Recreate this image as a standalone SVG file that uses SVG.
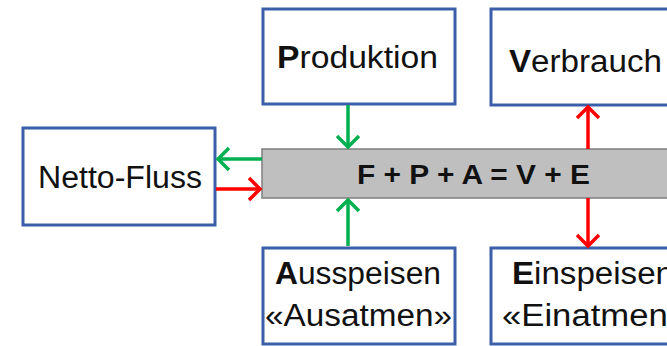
<svg xmlns="http://www.w3.org/2000/svg" width="667" height="346" viewBox="0 0 667 346">
<style>
.box{fill:#fff;stroke:#3a5fa8;stroke-width:3}
.bar{fill:#bfbfbf;stroke:#7f7f7f;stroke-width:1.5}
.t{font-family:"Liberation Sans",Arial,sans-serif;font-size:31px;fill:#111}
.b{font-weight:bold}
.eq{font-family:"Liberation Sans",Arial,sans-serif;font-size:27px;font-weight:bold;fill:#111}
.g{stroke:#00b050;stroke-width:3.5;fill:none}
.r{stroke:#ff0000;stroke-width:3.5;fill:none}
</style>
<defs>
<marker id="ag" markerUnits="userSpaceOnUse" markerWidth="26" markerHeight="26" refX="14" refY="13" orient="auto" viewBox="0 0 26 26">
<path d="M3,2 L14,13 L3,24" fill="none" stroke="#00b050" stroke-width="3.5"/>
</marker>
<marker id="ar" markerUnits="userSpaceOnUse" markerWidth="26" markerHeight="26" refX="14" refY="13" orient="auto" viewBox="0 0 26 26">
<path d="M3,2 L14,13 L3,24" fill="none" stroke="#ff0000" stroke-width="3.5"/>
</marker>
</defs>
<g id="center">
<rect class="bar" x="262" y="149" width="440" height="49"/>
<text class="eq" x="357" y="184" textLength="233" lengthAdjust="spacingAndGlyphs">F + P + A = V + E</text>
</g>
<g id="produktion">
<rect class="box" x="263" y="9" width="192" height="95"/>
<text class="t" x="277" y="68" textLength="161" lengthAdjust="spacingAndGlyphs"><tspan class="b">P</tspan>roduktion</text>
</g>
<g id="verbrauch">
<rect class="box" x="491" y="9" width="200" height="96"/>
<text class="t" x="509" y="72" textLength="153" lengthAdjust="spacingAndGlyphs"><tspan class="b">V</tspan>erbrauch</text>
</g>
<g id="netto">
<rect class="box" x="23" y="128" width="192" height="97"/>
<text class="t" x="38" y="188" textLength="164" lengthAdjust="spacingAndGlyphs">Netto-Fluss</text>
</g>
<g id="ausspeisen">
<rect class="box" x="263" y="248" width="192" height="96"/>
<text class="t" x="275" y="284" textLength="166" lengthAdjust="spacingAndGlyphs"><tspan class="b">A</tspan>usspeisen</text>
<text class="t" x="265" y="326" textLength="187" lengthAdjust="spacingAndGlyphs">«Ausatmen»</text>
</g>
<g id="einspeisen">
<rect class="box" x="491" y="248" width="200" height="96"/>
<text class="t" x="512" y="284" textLength="162" lengthAdjust="spacingAndGlyphs"><tspan class="b">E</tspan>inspeisen</text>
<text class="t" x="502" y="326" textLength="185" lengthAdjust="spacingAndGlyphs">«Einatmen»</text>
</g>
<g id="connectors">
<line class="g" x1="348" y1="105" x2="348" y2="147" marker-end="url(#ag)"/>
<line class="g" x1="348" y1="246" x2="348" y2="200" marker-end="url(#ag)"/>
<line class="r" x1="588" y1="149" x2="588" y2="107" marker-end="url(#ar)"/>
<line class="r" x1="588" y1="198" x2="588" y2="246" marker-end="url(#ar)"/>
<line class="g" x1="262" y1="159" x2="218" y2="159" marker-end="url(#ag)"/>
<line class="r" x1="216" y1="189" x2="260" y2="189" marker-end="url(#ar)"/>
</g>
</svg>
